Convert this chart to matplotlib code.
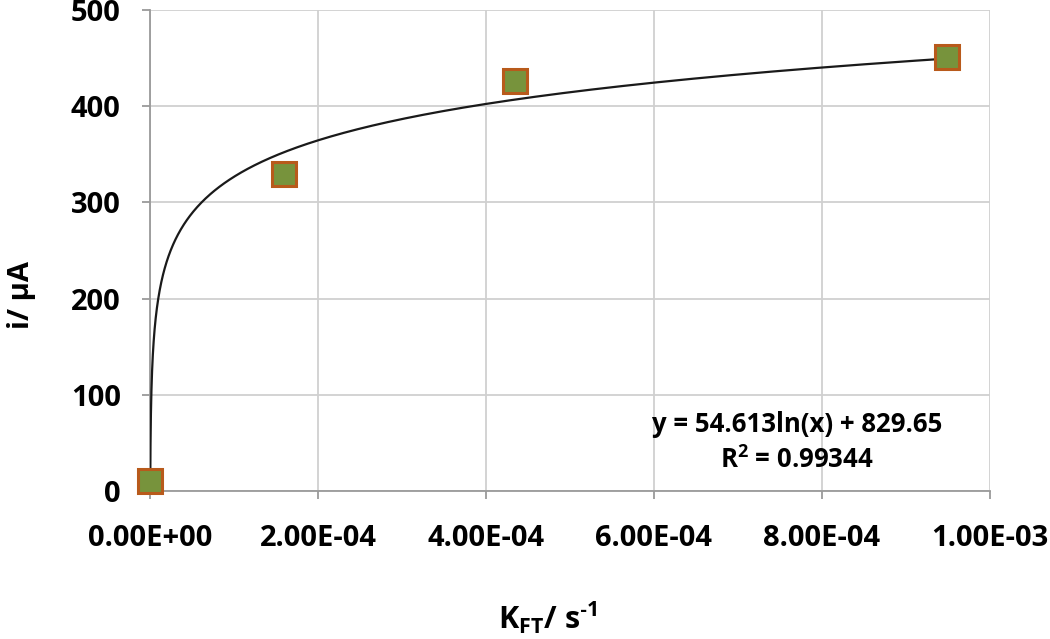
import numpy as np
import matplotlib
matplotlib.use("Agg")
import matplotlib.pyplot as plt

# Data
k_ft = [3.0e-7, 1.595e-4, 4.345e-4, 9.49e-4]      # s^-1
current = [10, 330, 426, 451]                    # µA
x_ticks = [0, 2e-4, 4e-4, 6e-4, 8e-4, 1e-3]
x_tick_labels = ["0.00E+00", "2.00E-04", "4.00E-04", "6.00E-04", "8.00E-04", "1.00E-03"]
y_ticks = [0, 100, 200, 300, 400, 500]
fit_a, fit_b = 54.613, 829.65
r2 = 0.99344

plt.rcParams['font.family'] = ['Open Sans', 'DejaVu Sans']
plt.rcParams['font.weight'] = 'bold'
plt.rcParams['mathtext.fontset'] = 'custom'
plt.rcParams['mathtext.rm'] = 'Open Sans:bold'
plt.rcParams['mathtext.bf'] = 'Open Sans:bold'
plt.rcParams['mathtext.it'] = 'Open Sans:bold'

fig = plt.figure(figsize=(10.5, 6.39), dpi=100)
W, H = 1050, 639
ax = fig.add_axes([150/W, 1-491/H, 840/W, 481/H])

# Trend line from fit coefficients
xf = np.geomspace(min(k_ft) * 0.85, max(k_ft), 600)
ax.plot(xf, fit_a * np.log(xf) + fit_b, color='#1a1a1a', lw=1.6, zorder=3)

ax.plot(k_ft, current, linestyle='none', marker='s', markersize=17,
        markerfacecolor='#77933C', markeredgecolor='#B85A1B', markeredgewidth=2.2,
        zorder=4, clip_on=False)

ax.set_xlim(0, 1e-3)
ax.set_ylim(0, 500)
ax.set_xticks(x_ticks)
ax.set_xticklabels(x_tick_labels)
ax.set_yticks(y_ticks)
ax.grid(True, color='#d0d0d0', lw=1.3)
ax.set_axisbelow(True)
for s in ['top', 'right']:
    ax.spines[s].set_visible(False)
for s in ['left', 'bottom']:
    ax.spines[s].set_color('#9a9a9a')
    ax.spines[s].set_linewidth(1.3)
ax.tick_params(axis='both', colors='#9a9a9a', length=6, width=1.3,
               labelcolor='black', labelsize=21)
ax.tick_params(axis='x', pad=18)
ax.tick_params(axis='y', pad=15)
for lbl in ax.get_xticklabels() + ax.get_yticklabels():
    lbl.set_fontweight('bold')

fig.text(797/W, 1-425/H, f"y = {fit_a}ln(x) + {fit_b}", fontsize=18.5,
         fontweight='bold', ha='center', va='center')
fig.text(797/W, 1-460/H, f"R$^{{2}}$ = {r2}", fontsize=18.5,
         fontweight='bold', ha='center', va='center')

fig.text(22/W, 1-295/H, "i/ µA", rotation=90, fontsize=21,
         fontweight='bold', ha='center', va='center')
fig.text(548/W, 1-618/H, "K$_{\\mathrm{FT}}$/ s$^{\\mathrm{\u20101}}$", fontsize=22,
         fontweight='bold', ha='center', va='center')

fig.savefig("out.png", dpi=100)
